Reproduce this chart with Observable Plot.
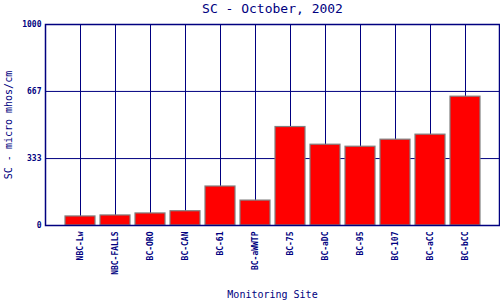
<!DOCTYPE html>
<html>
<head>
<meta charset="utf-8">
<script src="https://cdn.jsdelivr.net/npm/d3@7"></script>
<script src="https://cdn.jsdelivr.net/npm/@observablehq/plot@0.6"></script>
<style>
  html, body { margin: 0; padding: 0; background: #fff; }
  svg { display: block; }
</style>
</head>
<body>
<div id="chart"></div>
<script>
const sites = ["NBC-Lw", "NBC-FALLS", "BC-ORO", "BC-CAN", "BC-61", "BC-aWWTP", "BC-75", "BC-aDC", "BC-95", "BC-107", "BC-aCC", "BC-bCC"];
const scValues = [45, 50, 60, 71, 194, 124, 490, 402, 392, 427, 452, 641];
const yTicks = [0, 333, 667, 1000];
const yTickLabels = ["0", "333", "667", "1000"];
const titleText = "SC - October, 2002";
const xLabel = "Monitoring Site";
const yLabel = "SC - micro mhos/cm";

const data = sites.map((s, i) => ({site: s, value: scValues[i]}));
const navy = "#000080";
const mono = "'DejaVu Sans Mono', 'Liberation Mono', monospace";

const chart = Plot.plot({
  width: 500,
  height: 300,
  marginLeft: 45,
  marginRight: 1,
  marginTop: 24,
  marginBottom: 75,
  style: {fontFamily: mono, color: navy, background: "#fff", overflow: "visible"},
  x: {type: "band", domain: sites, range: [45, 500], paddingInner: 0.14, paddingOuter: 0.57},
  y: {domain: [0, 1000]},
  marks: [
    Plot.gridX(sites, {stroke: navy, strokeOpacity: 1, strokeWidth: 1}),
    Plot.gridY(yTicks, {stroke: navy, strokeOpacity: 1, strokeWidth: 1}),
    Plot.barY(data, {x: "site", y: "value", fill: "#ff0000", stroke: "#808080", strokeWidth: 1.2}),
    Plot.frame({stroke: navy, strokeWidth: 1.5}),
    Plot.axisY(yTicks, {
      tickSize: 0, tickPadding: 4, fontSize: 8, fontWeight: "bold", fill: navy,
      tickFormat: (d) => yTickLabels[yTicks.indexOf(d)],
      label: null
    }),
    Plot.axisX(sites, {
      tickSize: 0, tickRotate: -90, tickPadding: 6, fontSize: 8, fontWeight: "bold", fill: navy,
      label: null
    }),
    Plot.text([titleText], {frameAnchor: "top", dy: -21, fontSize: 13, fill: navy, fontFamily: mono}),
    Plot.text([xLabel], {frameAnchor: "bottom", dy: 72, fontSize: 10, fill: navy, fontFamily: mono}),
    Plot.text([yLabel], {frameAnchor: "left", dx: -37, rotate: -90, textAnchor: "middle", fontSize: 10, fill: navy, fontFamily: mono})
  ]
});
document.getElementById("chart").appendChild(chart);
</script>
</body>
</html>
